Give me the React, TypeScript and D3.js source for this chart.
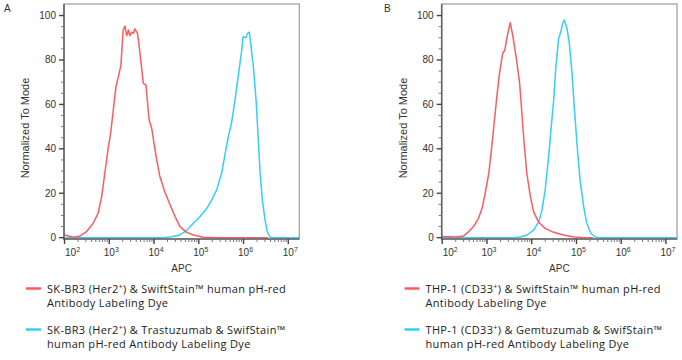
import React from "react";
import * as d3 from "d3";

// ---------- data (x = log10 APC, y = % of mode) ----------
const decades = [2, 3, 4, 5, 6, 7];
const yTicks = [0, 20, 40, 60, 80, 100];
const panelLetters = ["A", "B"];
const xTitle = "APC";
const yTitle = "Normalized To Mode";

const aRed: [number, number][] = [
  [1.99, 1.2], [2.05, 1.0], [2.2, 0.2], [2.35, 0.8], [2.49, 2.7], [2.64, 6.5], [2.75, 11],
  [2.83, 18.5], [2.9, 29], [2.98, 41], [3.03, 47], [3.09, 57.5], [3.15, 68], [3.22, 74],
  [3.26, 77.7], [3.31, 93.5], [3.35, 95.3], [3.39, 91], [3.43, 93.5], [3.46, 91],
  [3.5, 92.5], [3.54, 92], [3.57, 94], [3.63, 92], [3.66, 87.5], [3.72, 77], [3.76, 69.5],
  [3.82, 68.7], [3.85, 62], [3.89, 53], [3.95, 49], [4.0, 42.5], [4.06, 35], [4.13, 27.5],
  [4.24, 20.7], [4.36, 14.7], [4.47, 9.5], [4.58, 5], [4.73, 2.4], [4.88, 1.2], [5.1, 0.2],
  [5.4, 0], [6.55, 0],
];
const aBlue: [number, number][] = [
  [1.99, 0], [4.21, 0], [4.36, 0.3], [4.58, 1.2], [4.73, 3.3], [4.88, 6.5], [5.03, 9.5],
  [5.18, 13.2], [5.29, 17], [5.4, 21.5], [5.51, 29], [5.59, 38], [5.66, 45.5], [5.73, 51.5],
  [5.81, 62], [5.88, 72.5], [5.96, 84.5], [5.99, 90.5], [6.05, 90], [6.09, 92], [6.13, 92.5],
  [6.16, 87.5], [6.22, 77], [6.28, 62], [6.33, 44], [6.37, 29], [6.42, 17], [6.48, 8],
  [6.53, 2.7], [6.59, 0.3], [6.65, 0], [7.246, 0],
];
const bRed: [number, number][] = [
  [1.99, 0.5], [2.3, 0.3], [2.48, 0.8], [2.59, 2.7], [2.7, 5], [2.81, 8.7], [2.89, 13.2],
  [2.96, 20], [3.04, 29], [3.1, 39.5], [3.16, 51.5], [3.22, 63.5], [3.28, 74], [3.35, 83],
  [3.4, 84.5], [3.45, 90.5], [3.52, 96.8], [3.58, 90.5], [3.65, 81.5], [3.73, 69.5],
  [3.78, 56], [3.83, 42.5], [3.89, 29], [3.97, 18.5], [4.04, 11.7], [4.16, 6.8], [4.3, 4.2],
  [4.49, 2.4], [4.71, 1.2], [4.94, 0.3], [5.16, 0], [5.37, 0],
];
const bBlue: [number, number][] = [
  [1.99, 0], [3.6, 0], [3.74, 0.3], [3.89, 1.2], [4.04, 3.3], [4.16, 7.2], [4.23, 12.5],
  [4.3, 21.5], [4.37, 35], [4.43, 48.5], [4.49, 62], [4.54, 77], [4.6, 89.7], [4.65, 92.7],
  [4.69, 96.5], [4.73, 98], [4.79, 94], [4.84, 87.5], [4.9, 74], [4.95, 59], [5.01, 42.5],
  [5.08, 26], [5.16, 14], [5.23, 6.5], [5.32, 2], [5.42, 0.3], [5.5, 0], [7.246, 0],
];

type Legend = { pre: string; sup: string; post: string; line2: string };
const aLegend: Legend[] = [
  { pre: "SK-BR3 (Her2", sup: "+", post: ") & SwiftStain™ human pH-red", line2: "Antibody Labeling Dye" },
  { pre: "SK-BR3 (Her2", sup: "+", post: ") & Trastuzumab & SwifStain™", line2: "human pH-red Antibody Labeling Dye" },
];
const bLegend: Legend[] = [
  { pre: "THP-1 (CD33", sup: "+", post: ") & SwiftStain™ human pH-red", line2: "Antibody Labeling Dye" },
  { pre: "THP-1 (CD33", sup: "+", post: ") & Gemtuzumab & SwifStain™", line2: "human pH-red Antibody Labeling Dye" },
];

const RED = "#ff5a5f";
const BLUE = "#33cdff";
const TICK_FONT = "'Liberation Sans', Arial, sans-serif";
const LEG_FONT = "'Open Sans', sans-serif";

const PLOT_W = 235.3;
const TOP = 4;
const BOTTOM = 239;

function Panel({ left, letter, red, blue, legend, legX, letterX }: {
  left: number; letter: string; red: [number, number][]; blue: [number, number][];
  legend: Legend[]; legX: number; letterX: number;
}) {
  const x = d3.scaleLog().domain([10 ** 1.988, 10 ** 7.246]).range([left, left + PLOT_W]);
  const y = d3.scaleLinear().domain([-0.6, 105.2]).range([BOTTOM, TOP]);
  const line = d3.line<[number, number]>().x((d) => x(10 ** d[0])).y((d) => y(d[1]));
  const minor: number[] = [];
  for (let e = 1; e <= 7; e++) for (let k = 2; k <= 9; k++) {
    const v = k * 10 ** e;
    if (v > 10 ** 1.99 && v < 10 ** 7.24) minor.push(v);
  }
  const yMinor = d3.range(0, 101, 5).filter((v) => v % 20 !== 0);
  const legColors = [RED, BLUE];
  const legY = [288.5, 329.5];
  return (
    <g>
      <text x={letterX} y={12} fontFamily={TICK_FONT} fontSize={10} fill="#333">{letter}</text>
      <rect x={left} y={TOP} width={PLOT_W} height={BOTTOM - TOP} fill="#fff" stroke="#999" strokeWidth={1.2} />
      <path d={line(blue) || ""} fill="none" stroke={BLUE} strokeWidth={1.5} strokeLinejoin="round" />
      <path d={line(red) || ""} fill="none" stroke={RED} strokeWidth={1.5} strokeLinejoin="round" />
      <line x1={left} x2={left} y1={TOP} y2={BOTTOM + 1} stroke="#666" strokeWidth={1.6} />
      <line x1={left} x2={left + PLOT_W} y1={BOTTOM} y2={BOTTOM} stroke="#666" strokeWidth={1.6} />
      {yTicks.map((t) => (
        <g key={"y" + t}>
          <line x1={left - 5} x2={left} y1={y(t)} y2={y(t)} stroke="#444" strokeWidth={1.4} />
          <text x={left - 8} y={y(t) + 3.5} textAnchor="end" fontFamily={TICK_FONT} fontSize={10} fill="#333">{t}</text>
        </g>
      ))}
      {yMinor.map((t) => (
        <line key={"ym" + t} x1={left - 3} x2={left} y1={y(t)} y2={y(t)} stroke="#777" strokeWidth={1} />
      ))}
      {decades.map((d, i) => (
        <g key={"x" + d}>
          <line x1={x(10 ** d)} x2={x(10 ** d)} y1={BOTTOM} y2={BOTTOM + 5} stroke="#444" strokeWidth={1.4} />
          <text x={x(10 ** d) - 5.5 + (i === 0 ? 6 : 0)} y={256} fontFamily={TICK_FONT} fontSize={10} fill="#333">
            10<tspan dy={-4} fontSize={7}>{d}</tspan>
          </text>
        </g>
      ))}
      {minor.map((v) => (
        <line key={"xm" + v} x1={x(v)} x2={x(v)} y1={BOTTOM} y2={BOTTOM + 3} stroke="#777" strokeWidth={1} />
      ))}
      <text x={left + PLOT_W / 2} y={272} textAnchor="middle" fontFamily={TICK_FONT} fontSize={10} fill="#333">{xTitle}</text>
      <text transform={`translate(${left - 35},128) rotate(-90)`} textAnchor="middle" fontFamily={TICK_FONT} fontSize={11} fill="#333">{yTitle}</text>
      {legend.map((L, i) => (
        <g key={"l" + i}>
          <line x1={legX} x2={legX + 15} y1={legY[i]} y2={legY[i]} stroke={legColors[i]} strokeWidth={2.5} />
          <text x={legX + 21} y={legY[i] + 4} fontFamily={LEG_FONT} fontSize={11} letterSpacing={0.33} fill="#222">
            {L.pre}<tspan dy={-4} fontSize={7}>{L.sup}</tspan><tspan dy={4}>{L.post}</tspan>
          </text>
          <text x={legX + 21} y={legY[i] + 18} fontFamily={LEG_FONT} fontSize={11} letterSpacing={0.33} fill="#222">{L.line2}</text>
        </g>
      ))}
    </g>
  );
}

export default function App() {
  return (
    <svg width={682} height={360} style={{ position: "absolute", left: 0, top: 0, background: "#fff" }}>
      <Panel left={64} letter={panelLetters[0]} red={aRed} blue={aBlue} legend={aLegend} legX={26} letterX={4} />
      <Panel left={441.7} letter={panelLetters[1]} red={bRed} blue={bBlue} legend={bLegend} legX={404.5} letterX={384} />
    </svg>
  );
}
